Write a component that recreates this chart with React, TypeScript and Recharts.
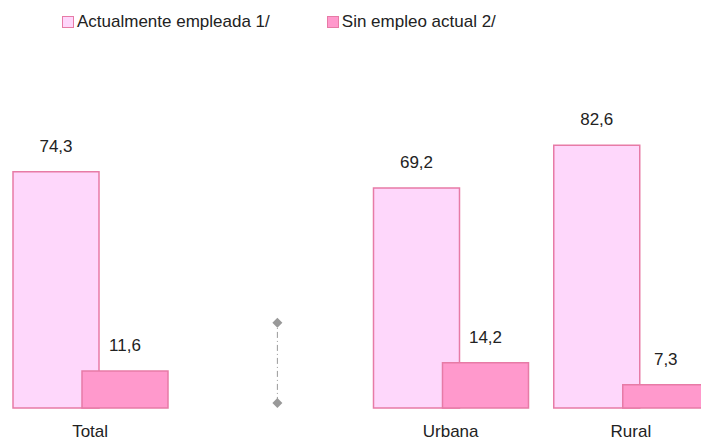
import React from "react";
import { BarChart, Bar, XAxis, YAxis, LabelList, Legend, ReferenceLine } from "recharts";

const categories = ["Total", " ", "Urbana", "Rural"];
const empleada = [74.3, null, 69.2, 82.6];
const sinEmpleo = [11.6, null, 14.2, 7.3];
const seriesNames = ["Actualmente empleada 1/", "Sin empleo actual 2/"];
const dividerRange = [1.6, 26.8];

const data = categories.map((c, i) => ({
  name: c,
  empleada: empleada[i],
  sinEmpleo: sinEmpleo[i],
}));

const FONT = "'Liberation Sans', Arial, sans-serif";
const FS = 17;
const fmt = (v: any) => (v == null ? "" : String(v).replace(".", ","));

const LegendContent = (props: any) => {
  const items = props.payload || [];
  return (
    <div style={{ display: "flex", fontFamily: FONT, fontSize: FS, color: "#222", lineHeight: "20px" }}>
      {items.map((it: any, i: number) => (
        <div key={i} style={{ display: "flex", alignItems: "center", marginRight: i === 0 ? 57 : 0 }}>
          <span
            style={{
              display: "inline-block",
              width: 10,
              height: 10,
              background: it.payload.fill,
              border: "1px solid " + it.payload.stroke,
              marginRight: 3,
            }}
          />
          <span>{it.value}</span>
        </div>
      ))}
    </div>
  );
};

const DividerShape = (props: any) => {
  const { x1, y1, x2, y2 } = props;
  const dx = 7;
  const d = (x: number, y: number) => `M${x},${y - 5} L${x + 5},${y} L${x},${y + 5} L${x - 5},${y} Z`;
  return (
    <g>
      <line x1={x1 + dx} y1={y1} x2={x2 + dx} y2={y2} stroke="#999" strokeWidth={1} strokeDasharray="6 3 1 3" />
      <path d={d(x1 + dx, y1)} fill="#999" />
      <path d={d(x2 + dx, y2)} fill="#999" />
    </g>
  );
};

export default function App() {
  return (
    <div style={{ position: "absolute", left: 0, top: 0, width: 701, height: 442, overflow: "hidden", background: "#fff" }}>
      <BarChart
        width={721}
        height={442}
        data={data}
        margin={{ top: 70, right: 0, bottom: 0, left: 0 }}
        barSize={86}
        barGap={-17}
      >
        <XAxis
          dataKey="name"
          axisLine={false}
          tickLine={false}
          tickSize={0}
          tickMargin={17}
          height={34}
          interval={0}
          tick={{ fontFamily: FONT, fontSize: FS, fill: "#222" }}
        />
        <YAxis hide domain={[0, 100]} />
        <Legend
          verticalAlign="top"
          align="left"
          content={<LegendContent />}
          wrapperStyle={{ top: 12, left: 62, width: "auto" }}
        />
        <ReferenceLine
          segment={[
            { x: " ", y: dividerRange[0] },
            { x: " ", y: dividerRange[1] },
          ]}
          shape={<DividerShape />}
        />
        <Bar dataKey="empleada" name={seriesNames[0]} fill="#FED7FB" stroke="#E77BA6" strokeWidth={1.5} isAnimationActive={false}>
          <LabelList dataKey="empleada" position="top" offset={20} formatter={fmt} style={{ fontFamily: FONT, fontSize: FS, fill: "#222" }} />
        </Bar>
        <Bar dataKey="sinEmpleo" name={seriesNames[1]} fill="#FF99CC" stroke="#E77BA6" strokeWidth={1.5} isAnimationActive={false}>
          <LabelList dataKey="sinEmpleo" position="top" offset={20} formatter={fmt} style={{ fontFamily: FONT, fontSize: FS, fill: "#222" }} />
        </Bar>
      </BarChart>
    </div>
  );
}
